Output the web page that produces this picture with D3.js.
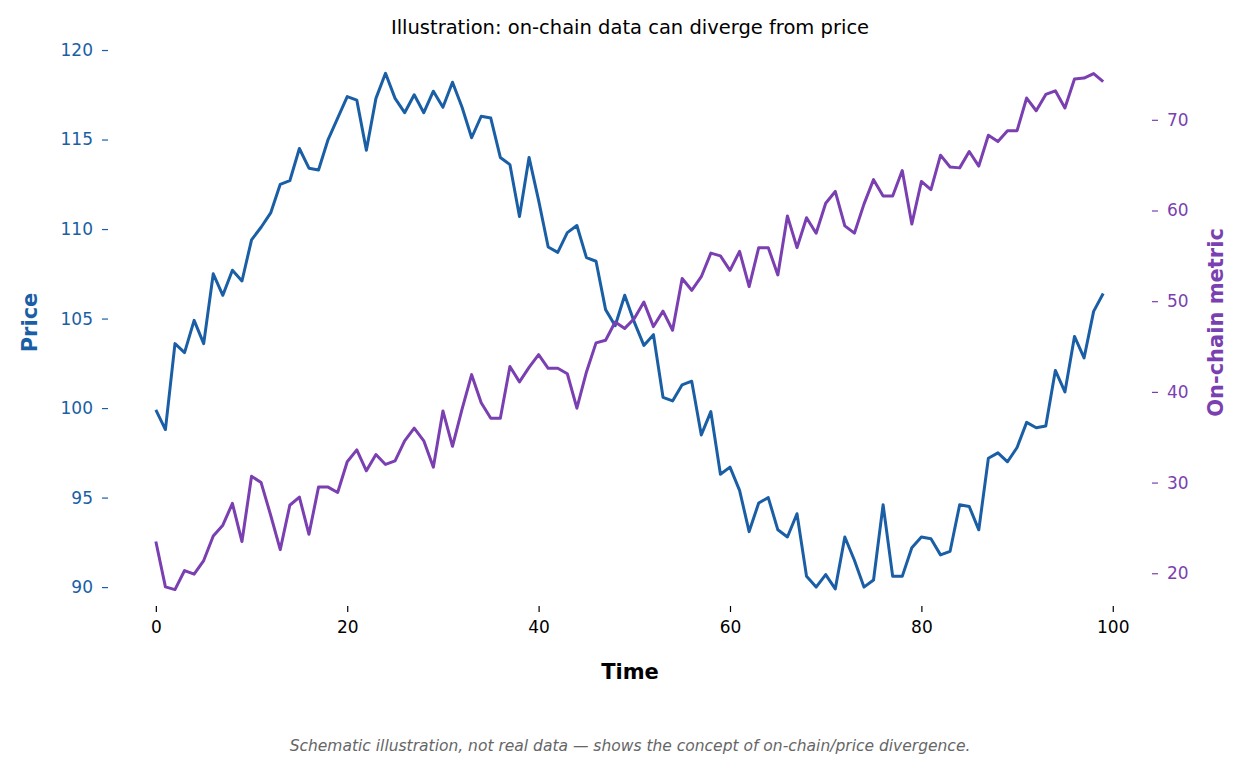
<!DOCTYPE html>
<html><head><meta charset="utf-8">
<script src="https://cdn.jsdelivr.net/npm/d3@7"></script>
<style>body{margin:0;background:#fff;font-family:"DejaVu Sans",sans-serif;}</style>
</head><body>
<svg id="chart"></svg>
<script>
// values
var price = [99.9,98.8,103.6,103.1,104.9,103.6,107.5,106.3,107.7,107.1,
  109.4,110.1,110.9,112.5,112.7,114.5,113.4,113.3,115.0,116.2,
  117.4,117.2,114.4,117.3,118.7,117.3,116.5,117.5,116.5,117.7,
  116.8,118.2,116.8,115.1,116.3,116.2,114.0,113.6,110.7,114.0,
  111.6,109.0,108.7,109.8,110.2,108.4,108.2,105.5,104.6,106.3,
  104.8,103.5,104.1,100.6,100.4,101.3,101.5,98.5,99.8,96.3,
  96.7,95.4,93.1,94.7,95.0,93.2,92.8,94.1,90.6,90.0,
  90.7,89.9,92.8,91.5,90.0,90.4,94.6,90.6,90.6,92.2,
  92.8,92.7,91.8,92.0,94.6,94.5,93.2,97.2,97.5,97.0,
  97.8,99.2,98.9,99.0,102.1,100.9,104.0,102.8,105.4,106.4];
var onchain = [23.5,18.5,18.2,20.3,19.9,21.4,24.1,25.3,27.7,23.5,
  30.7,30.0,26.4,22.6,27.5,28.4,24.3,29.5,29.5,28.9,
  32.3,33.6,31.3,33.1,32.0,32.4,34.6,36.0,34.6,31.7,
  37.9,34.0,38.1,41.9,38.8,37.1,37.1,42.8,41.1,42.7,
  44.1,42.6,42.6,42.0,38.2,42.2,45.4,45.7,47.7,47.0,
  48.1,49.9,47.2,48.9,46.8,52.5,51.2,52.7,55.3,55.0,
  53.4,55.5,51.6,55.9,55.9,52.9,59.4,55.9,59.2,57.5,
  60.8,62.1,58.3,57.5,60.7,63.4,61.6,61.6,64.4,58.5,
  63.2,62.3,66.1,64.8,64.7,66.5,64.9,68.3,67.6,68.8,
  68.8,72.4,71.0,72.8,73.2,71.3,74.5,74.6,75.1,74.2];
var priceTicks = [90,95,100,105,110,115,120];
var chainTicks = [20,30,40,50,60,70];
var timeTicks = [0,20,40,60,80,100];

var W = 1245, H = 771;
var mLeft = 108, mRight = 1152, mTop = 40, mBottom = 605;
var blue = "#1a5fa5", purple = "#7a3fb0";

var svg = d3.select("#chart").attr("width", W).attr("height", H);

var x = d3.scaleLinear().domain([-5, 104.1]).range([mLeft, mRight]);
var yL = d3.scaleLinear().domain([89.0, 120.56]).range([mBottom, mTop]);
var yR = d3.scaleLinear().domain([16.5, 78.8]).range([mBottom, mTop]);

function styleAxis(g, color) {
  g.select(".domain").remove();
  g.selectAll("line").attr("stroke", color).attr("stroke-width", 1.2);
  g.selectAll("text").attr("fill", color).attr("font-size", "17px")
    .attr("font-family", "DejaVu Sans, sans-serif");
}

svg.append("g").attr("transform", "translate(0," + (mBottom + 1) + ")")
  .call(d3.axisBottom(x).tickValues(timeTicks).tickSize(6).tickPadding(9))
  .call(styleAxis, "#000");
svg.append("g").attr("transform", "translate(" + mLeft + ",0)")
  .call(d3.axisLeft(yL).tickValues(priceTicks).tickSize(6).tickPadding(9))
  .call(styleAxis, blue);
svg.append("g").attr("transform", "translate(" + mRight + ",0)")
  .call(d3.axisRight(yR).tickValues(chainTicks).tickSize(6).tickPadding(9))
  .call(styleAxis, purple);

var lineL = d3.line().x(function(d, i){ return x(i); }).y(function(d){ return yL(d); });
var lineR = d3.line().x(function(d, i){ return x(i); }).y(function(d){ return yR(d); });

svg.append("path").datum(price).attr("d", lineL)
  .attr("fill", "none").attr("stroke", blue).attr("stroke-width", 3).attr("stroke-linejoin", "round");
svg.append("path").datum(onchain).attr("d", lineR)
  .attr("fill", "none").attr("stroke", purple).attr("stroke-width", 3).attr("stroke-linejoin", "round");

svg.append("text").attr("x", 630).attr("y", 34).attr("text-anchor", "middle")
  .attr("font-size", "19.5px").text("Illustration: on-chain data can diverge from price");
svg.append("text").attr("x", 630).attr("y", 679).attr("text-anchor", "middle")
  .attr("font-size", "21px").attr("font-weight", "bold").text("Time");
svg.append("text").attr("transform", "translate(37," + ((mTop + mBottom) / 2) + ") rotate(-90)")
  .attr("text-anchor", "middle").attr("font-size", "21px").attr("font-weight", "bold")
  .attr("fill", blue).text("Price");
svg.append("text").attr("transform", "translate(1223," + ((mTop + mBottom) / 2) + ") rotate(-90)")
  .attr("text-anchor", "middle").attr("font-size", "21px").attr("font-weight", "bold")
  .attr("fill", purple).text("On-chain metric");
svg.append("text").attr("x", 630).attr("y", 751).attr("text-anchor", "middle")
  .attr("font-size", "15.5px").attr("font-style", "italic").attr("fill", "#666")
  .text("Schematic illustration, not real data — shows the concept of on-chain/price divergence.");
</script>
</body></html>
